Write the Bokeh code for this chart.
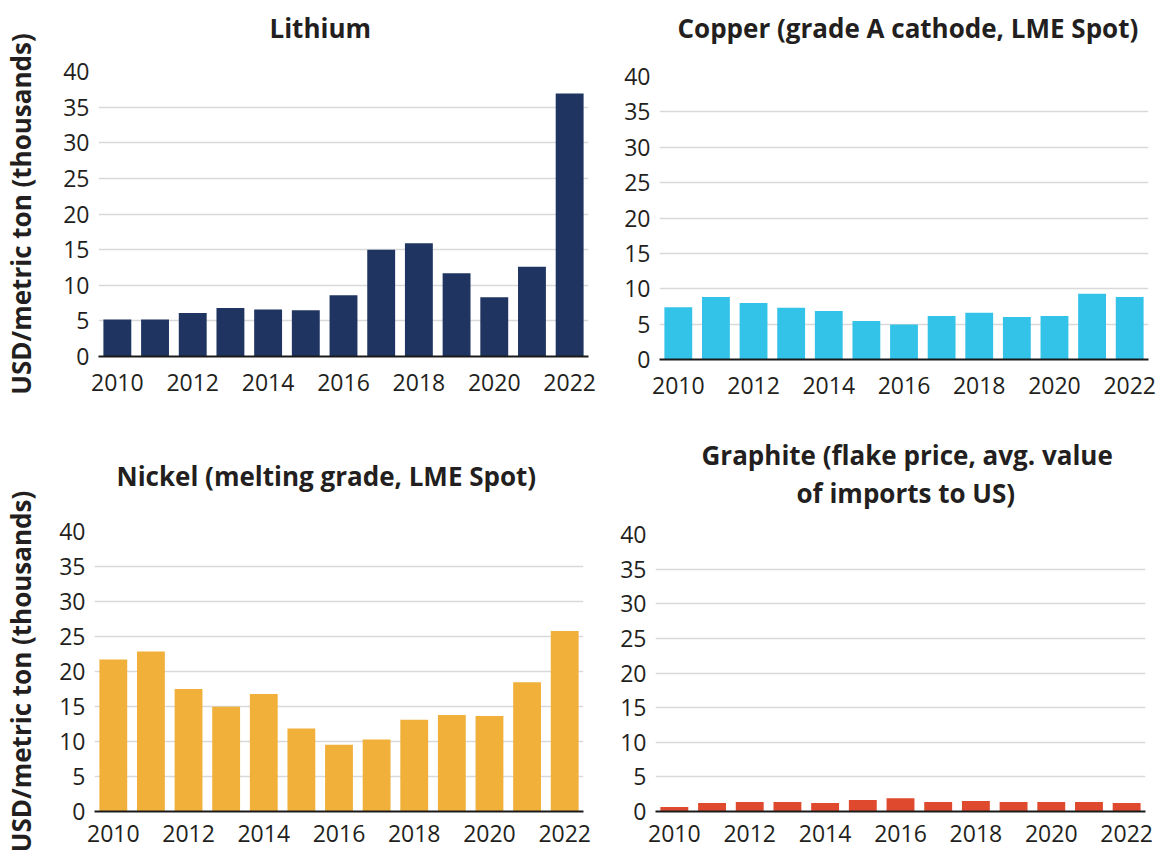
from bokeh.plotting import figure
from bokeh.models import Range1d, FixedTicker, Title, ColumnDataSource
from bokeh.layouts import column, row
from bokeh.embed import file_html
from bokeh.resources import INLINE

# ---- data (thousand USD per metric ton) ----
years = [2010, 2011, 2012, 2013, 2014, 2015, 2016, 2017, 2018, 2019, 2020, 2021, 2022]
lithium = [5.2, 5.2, 6.1, 6.8, 6.6, 6.5, 8.6, 15.0, 15.9, 11.7, 8.3, 12.6, 36.9]
copper = [7.4, 8.85, 8.0, 7.3, 6.85, 5.45, 4.95, 6.15, 6.6, 6.0, 6.15, 9.3, 8.85]
nickel = [21.7, 22.85, 17.5, 14.95, 16.8, 11.85, 9.55, 10.3, 13.1, 13.8, 13.65, 18.45, 25.8]
graphite = [0.66, 1.22, 1.36, 1.36, 1.22, 1.65, 1.93, 1.36, 1.5, 1.36, 1.36, 1.36, 1.22]

x_ticks = [2010, 2012, 2014, 2016, 2018, 2020, 2022]
y_ticks = [0, 5, 10, 15, 20, 25, 30, 35, 40]
y_label = "USD/metric ton (thousands)"

FONT = "Open Sans"
TXT = "#231f20"


def title_obj(text, offset, standoff=0):
    return Title(text=text, align="left", offset=offset, standoff=standoff,
                 text_font=FONT, text_font_size="26px", text_font_style="bold",
                 text_color=TXT)


def panel(title_lines, values, color, width, height, left, right, top, bottom,
          ylabel, ylabel_standoff, title_offsets, gap, x_standoff):
    p = figure(width=width, height=height, output_backend="svg",
               toolbar_location=None, tools="",
               x_range=Range1d(2009.5, 2022.5), y_range=Range1d(0, 40),
               min_border_left=left, min_border_right=right,
               min_border_top=top, min_border_bottom=bottom)
    p.frame_align = False
    p.outline_line_color = None
    p.background_fill_color = "white"
    p.border_fill_color = "white"

    src = ColumnDataSource(dict(x=years, top=values))
    p.vbar(x="x", top="top", bottom=0, width=0.74, source=src,
           fill_color=color, line_color=None)

    # blank spacer (nearest the frame), then title lines bottom-up;
    # the figure's own title is the outermost (first) line
    p.add_layout(Title(text=" ", text_font_size="1px", text_color="white",
                       standoff=gap), "above")
    for text, off in reversed(list(zip(title_lines[1:], title_offsets[1:]))):
        p.add_layout(title_obj(text, off), "above")
    t = p.title
    t.text = title_lines[0]
    t.align = "left"
    t.offset = title_offsets[0]
    t.standoff = 0
    t.text_font = FONT
    t.text_font_size = "26px"
    t.text_font_style = "bold"
    t.text_color = TXT

    xa = p.xaxis[0]
    xa.ticker = FixedTicker(ticks=x_ticks)
    xa.axis_line_color = "#1a1a1a"
    xa.axis_line_width = 2
    xa.major_tick_line_color = None
    xa.minor_tick_line_color = None
    xa.major_tick_out = 0
    xa.major_tick_in = 0
    xa.major_label_standoff = x_standoff
    xa.major_label_text_font = FONT
    xa.major_label_text_font_size = "23px"
    xa.major_label_text_color = TXT

    ya = p.yaxis[0]
    ya.ticker = FixedTicker(ticks=y_ticks)
    ya.axis_line_color = None
    ya.major_tick_line_color = None
    ya.minor_tick_line_color = None
    ya.major_tick_out = 0
    ya.major_tick_in = 0
    ya.major_label_standoff = 9
    ya.major_label_text_font = FONT
    ya.major_label_text_font_size = "23px"
    ya.major_label_text_color = TXT
    if ylabel:
        ya.axis_label = ylabel
        ya.axis_label_text_font = FONT
        ya.axis_label_text_font_size = "26px"
        ya.axis_label_text_font_style = "bold"
        ya.axis_label_text_color = TXT
        ya.axis_label_standoff = ylabel_standoff

    p.xgrid.grid_line_color = None
    p.ygrid.grid_line_color = "#d9d9d9"
    p.ygrid.grid_line_width = 1.5
    p.ygrid.ticker = FixedTicker(ticks=y_ticks)
    return p


p1 = panel(["Lithium"], lithium, "#1f3461",
           610, 420, 97, 22, 71, 64, y_label, 21, [171], 23, 17)
p2 = panel(["Copper (grade A cathode, LME Spot)"], copper, "#33c3e8",
           550, 420, 49, 12, 76, 61, None, 0, [18], 27.7, 17)
p3 = panel(["Nickel (melting grade, LME Spot)"], nickel, "#f0b03a",
           610, 436, 93, 27, 111, 45, y_label, 17, [22], 35, 13)
p4 = panel(["Graphite (flake price, avg. value", "of imports to US)"], graphite,
           "#df4a2e", 550, 436, 45, 15, 114, 45, None, 0, [46, 141], 20.7, 13)

layout = column(row(p1, p2, spacing=0), row(p3, p4, spacing=0), spacing=0)

open("out.html", "w").write(file_html(layout, INLINE))
